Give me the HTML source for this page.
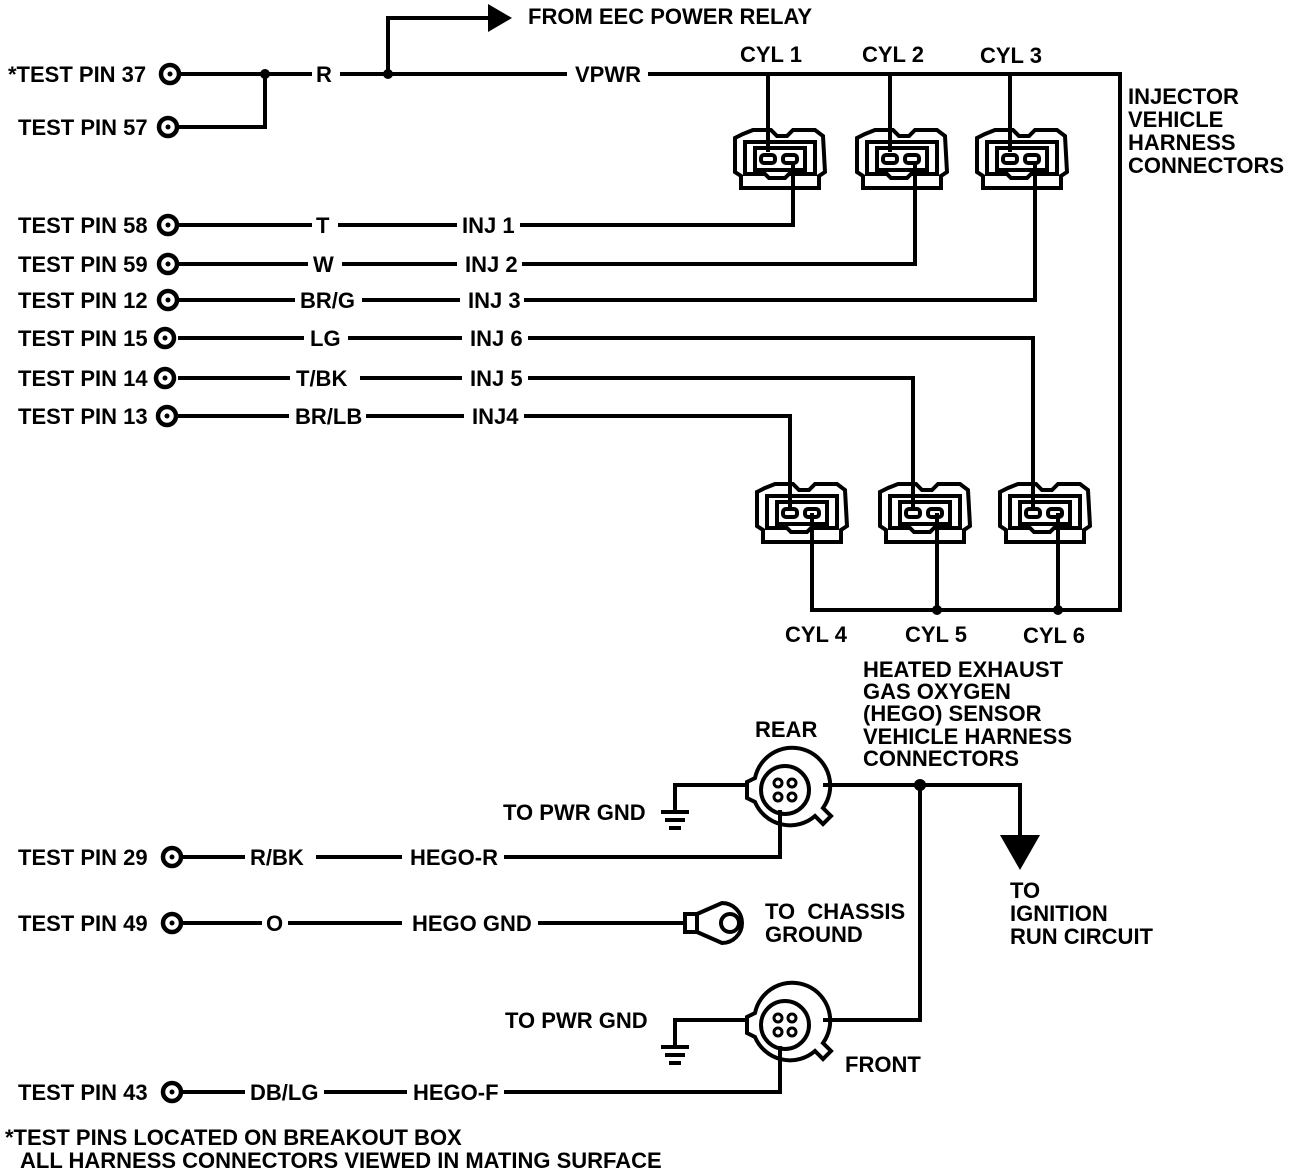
<!DOCTYPE html>
<html><head><meta charset="utf-8"><style>
html,body{margin:0;padding:0;background:#fff}
svg{display:block}
text{font-family:"Liberation Sans",Arial,sans-serif;font-weight:bold;font-size:22px;fill:#000;white-space:pre}
</style></head><body>
<svg width="1312" height="1172" viewBox="0 0 1312 1172" xmlns="http://www.w3.org/2000/svg">
<defs>
<g id="conn" fill="none" stroke="#000" stroke-width="4">
<path d="M8,6 L18,2 L36,2 L42,8 L52,8 L58,2 L80,2 L88,8 L90,44 L84,48 L84,60 L6,60 L6,48 L0,44 L0,10 Z"/>
<path d="M10,14 L10,46 L30,46 L34,50 L50,50 L54,46 L80,46 L80,14 Z"/>
<rect x="20" y="20" width="50" height="22"/>
<rect x="26" y="27" width="14" height="8" rx="3"/>
<rect x="48" y="27" width="14" height="8" rx="3"/>
</g>
<g id="pin"><circle r="9" fill="#fff" stroke="#000" stroke-width="4.5"/><circle r="2.5" fill="#000"/></g>
<g id="hego" fill="none" stroke="#000" stroke-width="4">
<path d="M-38,-8 L-38,8 L-30,12 A38,38 0 0 0 30,26 L38,34 L46,26 L38,18 A38,38 0 1 0 -30,-12 Z"/>
<circle r="24"/>
<circle cx="-7" cy="-7" r="4" stroke-width="3"/><circle cx="7" cy="-7" r="4" stroke-width="3"/>
<circle cx="-7" cy="7" r="4" stroke-width="3"/><circle cx="7" cy="7" r="4" stroke-width="3"/>
</g>
<g id="gnd" stroke="#000"><line x1="-14" y1="0" x2="14" y2="0" stroke-width="4"/><line x1="-10" y1="8" x2="10" y2="8" stroke-width="4"/><line x1="-6" y1="16" x2="6" y2="16" stroke-width="4"/></g>
</defs>
<g stroke="#000" stroke-width="4" fill="none" stroke-linecap="square">
<path d="M180,74 H310 M342,74 H565 M650,74 H1120 V610 H812"/>
<path d="M180,127 H265 V74"/>
<path d="M388,74 V18 H490"/>
<path d="M768,74 V150 M890,74 V150 M1010,74 V150"/>
<path d="M793,165 V225 H522 M915,165 V264 H524 M1035,165 V300 H526"/>
<path d="M180,225 H310 M340,225 H455"/>
<path d="M180,264 H306 M344,264 H455"/>
<path d="M180,300 H293 M364,300 H458"/>
<path d="M180,338 H302 M350,338 H460"/>
<path d="M180,378 H288 M362,378 H460"/>
<path d="M180,416 H287 M368,416 H462"/>
<path d="M530,338 H1033 V505 M530,378 H913 V505 M526,416 H790 V505"/>
<path d="M812,515 V610 M937,515 V610 M1058,515 V610"/>
<path d="M675,810 V785 H745 M825,785 H1020 V835"/>
<path d="M920,785 V1020 H825 M675,1045 V1020 H745"/>
<path d="M180,857 H243 M318,857 H400 M506,857 H780 V812"/>
<path d="M180,923 H260 M290,923 H400 M540,923 H685"/>
<path d="M180,1092 H243 M326,1092 H405 M506,1092 H780 V1048"/>
</g>
<g fill="#000">
<polygon points="488,4 512,18 488,32"/>
<circle cx="265" cy="74" r="5"/><circle cx="388" cy="74" r="5"/>
<circle cx="937" cy="610" r="5"/><circle cx="1058" cy="610" r="5"/>
<circle cx="920" cy="785" r="6"/>
<polygon points="1000,835 1040,835 1020,870"/>
</g>
<use href="#conn" x="735" y="128"/><use href="#conn" x="857" y="128"/><use href="#conn" x="977" y="128"/>
<use href="#conn" x="757" y="482"/><use href="#conn" x="880" y="482"/><use href="#conn" x="1000" y="482"/>
<use href="#hego" x="785" y="790"/><use href="#hego" x="785" y="1025"/>
<use href="#gnd" x="675" y="812"/><use href="#gnd" x="675" y="1047"/>
<g stroke="#000" stroke-width="4" fill="none">
<rect x="685" y="914" width="12" height="18"/>
<path d="M697,914 L722,903 A20,20 0 1 1 722,943 L697,932"/>
<circle cx="730" cy="923" r="9"/>
</g>
<use href="#pin" x="170" y="74"/><use href="#pin" x="168" y="127"/>
<use href="#pin" x="168" y="225"/><use href="#pin" x="168" y="264"/><use href="#pin" x="168" y="300"/>
<use href="#pin" x="165" y="338"/><use href="#pin" x="165" y="378"/><use href="#pin" x="167" y="416"/>
<use href="#pin" x="172" y="857"/><use href="#pin" x="172" y="923"/><use href="#pin" x="172" y="1092"/>
<text x="528" y="24">FROM EEC POWER RELAY</text>
<text x="8" y="82">*TEST PIN 37</text>
<text x="18" y="135">TEST PIN 57</text>
<text x="316" y="82">R</text>
<text x="575" y="82">VPWR</text>
<text x="740" y="62">CYL 1</text><text x="862" y="62">CYL 2</text><text x="980" y="63">CYL 3</text>
<text x="1128" y="104">INJECTOR</text><text x="1128" y="127">VEHICLE</text><text x="1128" y="150">HARNESS</text><text x="1128" y="173">CONNECTORS</text>
<text x="18" y="233">TEST PIN 58</text><text x="316" y="233">T</text><text x="462" y="233">INJ 1</text>
<text x="18" y="272">TEST PIN 59</text><text x="313" y="272">W</text><text x="465" y="272">INJ 2</text>
<text x="18" y="308">TEST PIN 12</text><text x="300" y="308">BR/G</text><text x="468" y="308">INJ 3</text>
<text x="18" y="346">TEST PIN 15</text><text x="310" y="346">LG</text><text x="470" y="346">INJ 6</text>
<text x="18" y="386">TEST PIN 14</text><text x="296" y="386">T/BK</text><text x="470" y="386">INJ 5</text>
<text x="18" y="424">TEST PIN 13</text><text x="295" y="424">BR/LB</text><text x="472" y="424">INJ4</text>
<text x="785" y="642">CYL 4</text><text x="905" y="642">CYL 5</text><text x="1023" y="643">CYL 6</text>
<text x="863" y="677">HEATED EXHAUST</text><text x="863" y="699">GAS OXYGEN</text><text x="863" y="721">(HEGO) SENSOR</text><text x="863" y="744">VEHICLE HARNESS</text><text x="863" y="766">CONNECTORS</text>
<text x="755" y="737">REAR</text>
<text x="503" y="820">TO PWR GND</text>
<text x="18" y="865">TEST PIN 29</text><text x="250" y="865">R/BK</text><text x="410" y="865">HEGO-R</text>
<text x="18" y="931">TEST PIN 49</text><text x="266" y="931">O</text><text x="412" y="931">HEGO GND</text>
<text x="765" y="919">TO  CHASSIS</text><text x="765" y="942">GROUND</text>
<text x="1010" y="898">TO</text><text x="1010" y="921">IGNITION</text><text x="1010" y="944">RUN CIRCUIT</text>
<text x="505" y="1028">TO PWR GND</text>
<text x="845" y="1072">FRONT</text>
<text x="18" y="1100">TEST PIN 43</text><text x="250" y="1100">DB/LG</text><text x="413" y="1100">HEGO-F</text>
<text x="5" y="1145">*TEST PINS LOCATED ON BREAKOUT BOX</text>
<text x="20" y="1168">ALL HARNESS CONNECTORS VIEWED IN MATING SURFACE</text>
</svg>
</body></html>
